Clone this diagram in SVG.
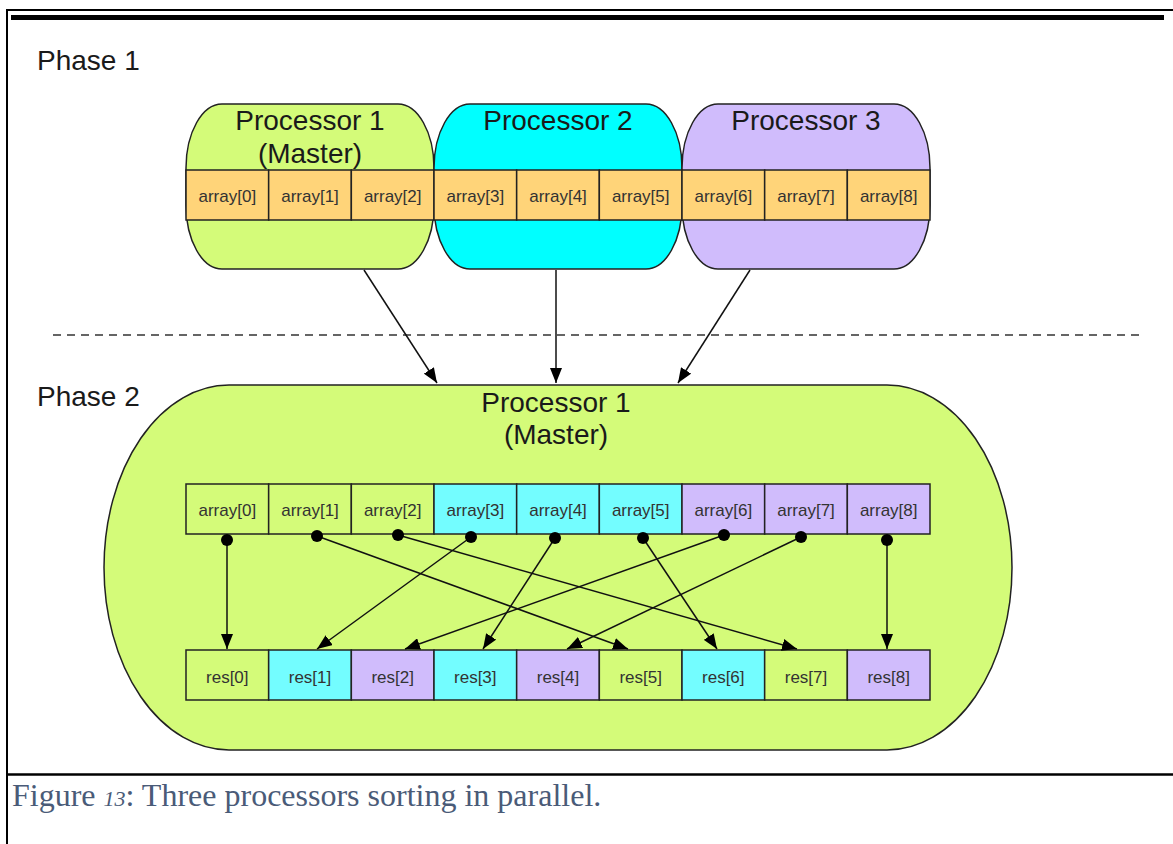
<svg xmlns="http://www.w3.org/2000/svg" width="1173" height="844" viewBox="0 0 1173 844">
<style>
.lbl{font-family:"Liberation Sans",Arial,sans-serif;fill:#1a1a1a}
.big{font-size:28px}
.cell text{font-family:"Liberation Sans",Arial,sans-serif;font-size:17px;fill:#333;text-anchor:middle}
.cell rect{stroke:#222;stroke-width:1.5}
.shape{stroke:#222;stroke-width:1.5}
.conn{stroke:#111;stroke-width:1.5;fill:none}
.frame{stroke:#000;fill:none}
.cap{font-family:"Liberation Serif","Times New Roman",serif;font-size:32px;fill:#4a5b78}
</style>
<defs>
<marker id="arr" markerUnits="userSpaceOnUse" markerWidth="15" markerHeight="12" refX="15" refY="6" orient="auto">
<path d="M0,0 L15,6 L0,12 z" fill="#000"/>
</marker>
<marker id="dot" markerUnits="userSpaceOnUse" markerWidth="14" markerHeight="14" refX="7" refY="7">
<circle cx="7" cy="7" r="6" fill="#000"/>
</marker>
</defs>
<rect width="1173" height="844" fill="#fff"/>
<g id="frame">
<line class="frame" x1="6" y1="10" x2="1173" y2="10" stroke-width="2"/>
<line class="frame" x1="7" y1="9" x2="7" y2="844" stroke-width="2"/>
<rect x="11" y="15" width="1153" height="5" fill="#000"/>
<line class="frame" x1="7" y1="774.5" x2="1173" y2="774.5" stroke-width="2.5"/>
</g>
<text class="lbl big" x="37" y="70">Phase 1</text>
<text class="lbl big" x="37" y="406">Phase 2</text>
<line x1="53" y1="335" x2="1143" y2="335" stroke="#333" stroke-width="1.5" stroke-dasharray="8 6"/>
<g id="proc1">
<rect class="shape" x="186" y="104" width="248" height="165" rx="36" ry="64" fill="#d4fb79"/>
<text class="lbl big" x="310" y="130" text-anchor="middle">Processor 1</text>
<text class="lbl big" x="310" y="163" text-anchor="middle">(Master)</text>
</g>
<g id="proc2">
<rect class="shape" x="434" y="104" width="248" height="165" rx="36" ry="64" fill="#00ffff"/>
<text class="lbl big" x="558" y="130" text-anchor="middle">Processor 2</text>
</g>
<g id="proc3">
<rect class="shape" x="682" y="104" width="248" height="165" rx="36" ry="64" fill="#d0bcfc"/>
<text class="lbl big" x="806" y="130" text-anchor="middle">Processor 3</text>
</g>
<g id="phase1-array" class="cell">
<rect x="186" y="170" width="82.67" height="50" fill="#ffd479"/><text x="227.3" y="202">array[0]</text>
<rect x="268.67" y="170" width="82.67" height="50" fill="#ffd479"/><text x="310" y="202">array[1]</text>
<rect x="351.33" y="170" width="82.67" height="50" fill="#ffd479"/><text x="392.7" y="202">array[2]</text>
<rect x="434" y="170" width="82.67" height="50" fill="#ffd479"/><text x="475.3" y="202">array[3]</text>
<rect x="516.67" y="170" width="82.67" height="50" fill="#ffd479"/><text x="558" y="202">array[4]</text>
<rect x="599.33" y="170" width="82.67" height="50" fill="#ffd479"/><text x="640.7" y="202">array[5]</text>
<rect x="682" y="170" width="82.67" height="50" fill="#ffd479"/><text x="723.3" y="202">array[6]</text>
<rect x="764.67" y="170" width="82.67" height="50" fill="#ffd479"/><text x="806" y="202">array[7]</text>
<rect x="847.33" y="170" width="82.67" height="50" fill="#ffd479"/><text x="888.7" y="202">array[8]</text>
</g>
<g id="master">
<rect class="shape" x="104" y="385" width="908" height="365" rx="125" ry="182.5" fill="#d4fb79"/>
<text class="lbl big" x="556" y="412" text-anchor="middle">Processor 1</text>
<text class="lbl big" x="556" y="444" text-anchor="middle">(Master)</text>
</g>
<g id="phase2-array" class="cell">
<rect x="186" y="484" width="82.67" height="50" fill="#d4fb79"/><text x="227.3" y="516">array[0]</text>
<rect x="268.67" y="484" width="82.67" height="50" fill="#d4fb79"/><text x="310" y="516">array[1]</text>
<rect x="351.33" y="484" width="82.67" height="50" fill="#d4fb79"/><text x="392.7" y="516">array[2]</text>
<rect x="434" y="484" width="82.67" height="50" fill="#73fdff"/><text x="475.3" y="516">array[3]</text>
<rect x="516.67" y="484" width="82.67" height="50" fill="#73fdff"/><text x="558" y="516">array[4]</text>
<rect x="599.33" y="484" width="82.67" height="50" fill="#73fdff"/><text x="640.7" y="516">array[5]</text>
<rect x="682" y="484" width="82.67" height="50" fill="#d0bcfc"/><text x="723.3" y="516">array[6]</text>
<rect x="764.67" y="484" width="82.67" height="50" fill="#d0bcfc"/><text x="806" y="516">array[7]</text>
<rect x="847.33" y="484" width="82.67" height="50" fill="#d0bcfc"/><text x="888.7" y="516">array[8]</text>
</g>
<g id="res" class="cell">
<rect x="186" y="650" width="82.67" height="50" fill="#d4fb79"/><text x="227.3" y="683">res[0]</text>
<rect x="268.67" y="650" width="82.67" height="50" fill="#73fdff"/><text x="310" y="683">res[1]</text>
<rect x="351.33" y="650" width="82.67" height="50" fill="#d0bcfc"/><text x="392.7" y="683">res[2]</text>
<rect x="434" y="650" width="82.67" height="50" fill="#73fdff"/><text x="475.3" y="683">res[3]</text>
<rect x="516.67" y="650" width="82.67" height="50" fill="#d0bcfc"/><text x="558" y="683">res[4]</text>
<rect x="599.33" y="650" width="82.67" height="50" fill="#d4fb79"/><text x="640.7" y="683">res[5]</text>
<rect x="682" y="650" width="82.67" height="50" fill="#73fdff"/><text x="723.3" y="683">res[6]</text>
<rect x="764.67" y="650" width="82.67" height="50" fill="#d4fb79"/><text x="806" y="683">res[7]</text>
<rect x="847.33" y="650" width="82.67" height="50" fill="#d0bcfc"/><text x="888.7" y="683">res[8]</text>
</g>
<g id="connectors">
<line class="conn" x1="364" y1="270" x2="437" y2="383" marker-end="url(#arr)"/>
<line class="conn" x1="556" y1="270" x2="556" y2="383" marker-end="url(#arr)"/>
<line class="conn" x1="750" y1="270" x2="678" y2="383" marker-end="url(#arr)"/>
<line class="conn" x1="227" y1="540" x2="227" y2="649" marker-start="url(#dot)" marker-end="url(#arr)"/>
<line class="conn" x1="317" y1="536" x2="628" y2="649" marker-start="url(#dot)" marker-end="url(#arr)"/>
<line class="conn" x1="398" y1="535" x2="797" y2="649" marker-start="url(#dot)" marker-end="url(#arr)"/>
<line class="conn" x1="471" y1="537" x2="317" y2="649" marker-start="url(#dot)" marker-end="url(#arr)"/>
<line class="conn" x1="555" y1="538" x2="483" y2="649" marker-start="url(#dot)" marker-end="url(#arr)"/>
<line class="conn" x1="643" y1="538" x2="717" y2="649" marker-start="url(#dot)" marker-end="url(#arr)"/>
<line class="conn" x1="724" y1="535" x2="405" y2="649" marker-start="url(#dot)" marker-end="url(#arr)"/>
<line class="conn" x1="801" y1="537" x2="567" y2="649" marker-start="url(#dot)" marker-end="url(#arr)"/>
<line class="conn" x1="887" y1="540" x2="887" y2="649" marker-start="url(#dot)" marker-end="url(#arr)"/>
</g>
<text class="cap" x="12" y="806">Figure <tspan font-style="italic" font-size="22px">13</tspan>: Three processors sorting in parallel.</text>
</svg>
